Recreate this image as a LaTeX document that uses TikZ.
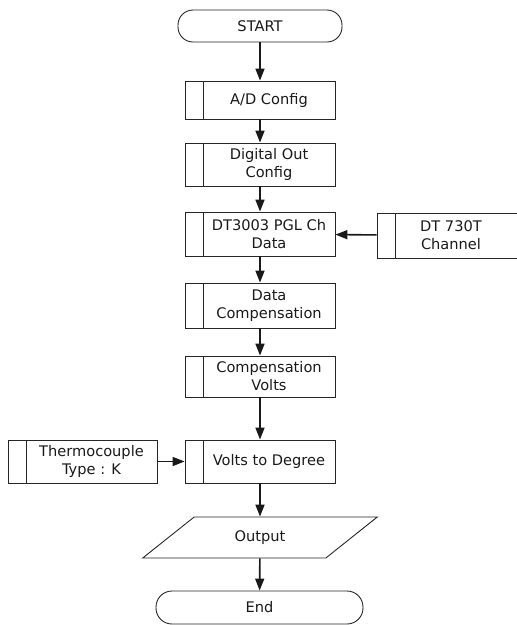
\documentclass[tikz,border=0pt]{standalone}
\usepackage{fontspec}
\setmainfont{DejaVu Sans}
\usetikzlibrary{arrows.meta,shapes.geometric}

% text placed to the right of the side bar of a sub-process box
% #1 = width of the text column, #2 = full box width, #3 = text
\newcommand\subtxtw[3]{\makebox[#2][l]{\hspace*{18pt}\parbox{#1}{\centering #3}}}
\newcommand\subtxt[1]{\subtxtw{132pt}{150pt}{#1}}

\tikzset{
  every node/.style={font=\fontsize{14.6}{18}\selectfont, text=black!90},
  outline/.style={draw=black!85, line width=0.9pt},
  terminal/.style={outline, rounded corners=15pt, minimum height=32pt, inner sep=0pt},
  subproc/.style={outline, minimum width=#1, inner sep=0pt,
    path picture={\draw[black!85, line width=0.9pt]
      ([xshift=18pt]path picture bounding box.north west) --
      ([xshift=18pt]path picture bounding box.south west);}},
  subproc/.default=150pt,
  iobox/.style={outline, trapezium, trapezium left angle=35, trapezium right angle=145,
    trapezium stretches=true, minimum width=236pt, minimum height=41pt, inner sep=0pt},
  flow/.style={line width=1.6pt, black!90, -{Triangle[length=12pt,width=9pt]}},
}

\begin{document}
\begin{tikzpicture}[x=1pt, y=-1pt]
  \clip (0,0) rectangle (517,625);

  % main column
  \node[terminal, minimum width=164pt] (start) at (260,26) {START};
  \node[subproc, minimum height=38pt] (ad) at (260,100) {\subtxt{A/D Config}};
  \node[subproc, minimum height=43pt] (dout) at (260,164.5) {\subtxt{Digital Out\\Config}};
  \node[subproc, minimum height=44pt] (pgl) at (260,234) {\subtxt{DT3003 PGL Ch\\Data}};
  \node[subproc, minimum height=45pt] (comp) at (260,305.5) {\subtxt{Data\\Compensation}};
  \node[subproc, minimum height=41pt] (volts) at (260,376.5) {\subtxt{Compensation\\Volts}};
  \node[subproc, minimum height=43pt] (deg) at (260,461.5) {\subtxt{Volts to Degree}};
  \node[iobox] (out) at (260,537.5) {Output};
  \node[terminal, minimum width=207pt, minimum height=33pt, rounded corners=16pt] (end) at (259.5,607.5) {End};

  % side inputs (the channel box runs off the right edge)
  \node[subproc=150pt, minimum height=45pt] (chan) at (452,235.5) {\subtxtw{112pt}{150pt}{DT 730T\\Channel}};
  \node[subproc=149pt, minimum height=43pt] (tc) at (82.5,461.5) {\subtxtw{131pt}{149pt}{Thermocouple\\Type : K}};

  % connectors
  \draw[flow] (start) -- (ad);
  \draw[flow] (ad) -- (dout);
  \draw[flow] (dout) -- (pgl);
  \draw[flow] (pgl) -- (comp);
  \draw[flow] (comp) -- (volts);
  \draw[flow] (volts) -- (deg);
  \draw[flow] (deg) -- (out);
  \draw[flow] (out) -- (end);
  \draw[flow] (chan) -- (pgl);
  \draw[flow] (tc) -- (deg);
\end{tikzpicture}
\end{document}
